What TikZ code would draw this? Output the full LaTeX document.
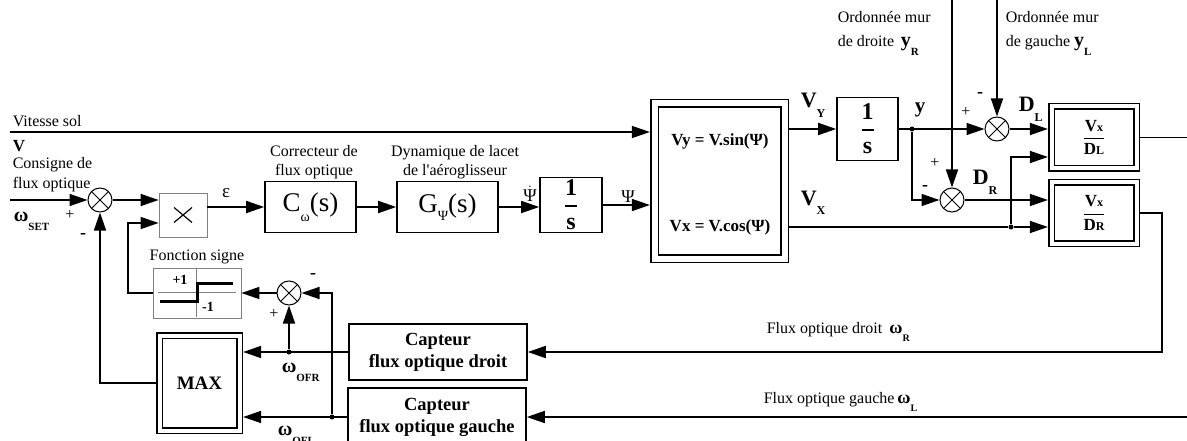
\documentclass[tikz,border=0pt]{standalone}
\usepackage{amsmath}
\usepackage{fontspec}
\setmainfont{Liberation Serif}
\usetikzlibrary{arrows.meta}

\newcommand\fsz[1]{\fontsize{#1}{#1}\selectfont}
\newcommand\sigl[3][11]{\textbf{#2}\raisebox{-.45em}{\fontsize{#1}{#1}\selectfont\textbf{#3}}}

\begin{document}
\begin{tikzpicture}[x=1pt,y=-1pt,line width=1.6pt,
  arr/.style={-{Triangle[length=18pt,width=12pt]}},
  blk/.style={draw,inner sep=0pt,line width=1.6pt,align=center},
  dbox/.style={draw,double,double distance=#1,inner sep=0pt,line width=1.6pt,outer sep=1.6pt+0.5*#1},
  gbox/.style={draw=gray,line width=0.8pt,inner sep=0pt},
  sumn/.style={circle,draw,line width=1pt,minimum size=24pt,inner sep=0pt,
    path picture={\draw[line width=1pt] (path picture bounding box.north west) -- (path picture bounding box.south east)
      (path picture bounding box.north east) -- (path picture bounding box.south west);}},
  dot/.style={circle,fill,inner sep=0pt,minimum size=5pt},
  lbl/.style={inner sep=0pt,font=\fsz{16}},
  sgnlbl/.style={inner sep=0pt,font=\fsz{15}}]
\useasboundingbox (0,0) rectangle (1187,441);
\clip (0,0) rectangle (1187,441);
\coordinate (win) at (10,200);
\coordinate (vin) at (10,132);
\coordinate (fbk) at (128,223);
\coordinate (ytop) at (0,-3);
\coordinate (rc) at (1162,0);
\coordinate (redge) at (1195,0);
\node[sumn] (s1) at (100,200) {};
\node[gbox,minimum width=48pt,minimum height=44pt,
  path picture={\draw[black,line width=1.2pt] ([shift={(-9,-7.5)}]path picture bounding box.center) -- ([shift={(9,7.5)}]path picture bounding box.center)
    ([shift={(-9,7.5)}]path picture bounding box.center) -- ([shift={(9,-7.5)}]path picture bounding box.center);}] (mul) at (183,215) {};
\node[blk,minimum width=91pt,minimum height=51pt] (cw) at (310.5,207) {\fsz{27}C\raisebox{-.35em}{\fsz{14}ω}(s)};
\node[blk,minimum width=101pt,minimum height=51pt] (gp) at (447.5,207) {\fsz{27}G\raisebox{-.3em}{\fsz{14}Ψ}(s)};
\node[blk,minimum width=62pt,minimum height=55pt] (int1) at (571,205) {\fsz{24}$\genfrac{}{}{2pt}{0}{\text{\bfseries 1}}{\text{\bfseries s}}$};
\node[dbox=6pt,minimum width=130pt,minimum height=155pt] (tri) at (719.5,181) {};
\node[lbl,font=\fsz{17}\bfseries] (vyeq) at (720,141) {Vy = V.sin(Ψ)};
\node[lbl,font=\fsz{17}\bfseries] (vxeq) at (720,227) {Vx = V.cos(Ψ)};
\node[blk,minimum width=61pt,minimum height=63pt] (int2) at (867.5,129) {\fsz{24}$\genfrac{}{}{2pt}{0}{\text{\bfseries 1}}{\text{\bfseries s}}$};
\node[dot] (ydot) at (912,129) {};
\node[sumn] (sL) at (997,129) {};
\node[sumn] (sR) at (952,200) {};
\node[dot] (xdot) at (1011,227) {};
\node[dbox=4pt,minimum width=85pt,minimum height=62pt] (dl) at (1094,137.5) {\fsz{17}$\genfrac{}{}{1.2pt}{0}{\text{\bfseries V\fsz{12}x}}{\text{\bfseries D\fsz{12}L}}$};
\node[dbox=4pt,minimum width=85pt,minimum height=61pt] (dr) at (1094,213) {\fsz{17}$\genfrac{}{}{1.2pt}{0}{\text{\bfseries V\fsz{12}x}}{\text{\bfseries D\fsz{12}R}}$};
\node[gbox,minimum width=88pt,minimum height=50pt] (sgn) at (197,293) {};
\node[sumn] (s3) at (289,293) {};
\node[dbox=4pt,minimum width=80pt,minimum height=95pt,font=\fsz{19}\bfseries] (mx) at (199.5,383) {MAX};
\node[blk,minimum width=178pt,minimum height=56pt,font=\fontsize{18.5}{22}\selectfont\bfseries] (capd) at (438,352) {Capteur\\flux optique droit};
\node[blk,minimum width=178pt,minimum height=58pt,font=\fontsize{18.5}{22}\selectfont\bfseries] (capg) at (437,417) {Capteur\\flux optique gauche};
\node[dot] (ofr) at (s3 |- capd) {};
\node[dot] (ofl) at (332,417) {};
\draw[gray,line width=0.6pt] (158,292) -- (236,292) (196,269) -- (196,317);
\draw[line width=3pt] (160,301) -- (197,301) -- (197,283) -- (233,283);
\node[lbl,anchor=base west] (vsol) at (12,127) {Vitesse sol};
\node[lbl,anchor=base west,font=\fsz{17}\bfseries] (vlab) at (12,152) {V};
\node[lbl,anchor=base west] (cons1) at (12,169) {Consigne de};
\node[lbl,anchor=base west] (cons2) at (12,189) {flux optique};
\node[lbl,anchor=base west,font=\fsz{20}] (wset) at (13,222) {\sigl{ω}{SET}};
\node[lbl] (p1) at (70,215) {+};
\node[lbl,font=\fsz{18}\bfseries] (m1) at (83,236) {-};
\node[lbl,font=\fsz{19}] (eps) at (226,193) {ε};
\node[lbl,align=center,font=\fontsize{16}{19}\selectfont] (corr) at (314,162) {Correcteur de\\flux optique};
\node[lbl,align=center,font=\fontsize{16}{19}\selectfont] (dyn) at (455,162) {Dynamique de lacet\\de l\textquotesingle aéroglisseur};
\node[lbl,font=\fsz{18}] (psid) at (530,194) {$\dot{\text{Ψ}}$};
\node[lbl,font=\fsz{18}] (psi) at (628,197) {Ψ};
\node[lbl,anchor=base west,font=\fsz{22}] (vylab) at (800,108) {\sigl[12]{V}{Y}};
\node[lbl,anchor=base west,font=\fsz{22}] (vxlab) at (800,205) {\sigl[12]{V}{X}};
\node[lbl,font=\fsz{21}\bfseries] (ylab) at (920,110) {y};
\node[lbl,anchor=base west] (ordr1) at (837,23) {Ordonnée mur};
\node[lbl,anchor=base west] (ordr2) at (837,47) {de droite\, {\fsz{20}\sigl{y}{R}}};
\node[lbl,anchor=base west] (ordl1) at (1005,23) {Ordonnée mur};
\node[lbl,anchor=base west] (ordl2) at (1005,47) {de gauche {\fsz{20}\sigl{y}{L}}};
\node[lbl] (pL) at (966,112) {+};
\node[lbl,font=\fsz{18}\bfseries] (mL) at (980,95) {-};
\node[lbl] (pR) at (935,163) {+};
\node[lbl,font=\fsz{18}\bfseries] (mR) at (925,188) {-};
\node[lbl,anchor=base west,font=\fsz{22}] (dllab) at (1018,112) {\sigl[12]{D}{L}};
\node[lbl,anchor=base west,font=\fsz{22}] (drlab) at (972,185) {\sigl[12]{D}{R}};
\node[lbl] (fsig) at (197,257) {Fonction signe};
\node[sgnlbl,font=\fsz{14}\bfseries] (pone) at (180,280) {+1};
\node[sgnlbl,font=\fsz{14}\bfseries] (mone) at (208,307) {-1};
\node[lbl,font=\fsz{18}\bfseries] (m3) at (313,276) {-};
\node[lbl] (p3) at (274,314) {+};
\node[lbl,anchor=base west,font=\fsz{20}] (wofr) at (281,372) {\sigl{ω}{OFR}};
\node[lbl,anchor=base west,font=\fsz{20}] (wofl) at (277,435) {\sigl{ω}{OFL}};
\node[lbl,anchor=base west] (fxr) at (766,333) {Flux optique droit\hspace{7pt}{\fsz{18}\sigl[10]{ω}{R}}};
\node[lbl,anchor=base west] (fxl) at (763,403) {Flux optique gauche\hspace{3pt}{\fsz{18}\sigl[10]{ω}{L}}};
\draw[arr] (win) -- (s1.west);
\draw[arr] (s1.east) -- (s1.east -| mul.west);
\draw[arr] (sgn.west) -| (fbk) -- (fbk -| mul.west);
\draw[arr] (mul.east |- cw) -- (cw.west);
\draw[arr] (cw.east) -- (gp.west);
\draw[arr] (gp.east) -- (gp.east -| int1.west);
\draw[arr] (int1.east) -- (int1.east -| tri.west);
\draw[arr] (vin) -- (vin -| tri.west);
\draw[arr] (tri.east |- int2) -- (int2.west);
\draw[arr] (int2.east) -- (sL.west);
\draw[arr] (ydot) |- (sR.west);
\draw[arr] (sR |- ytop) -- (sR.north);
\draw[arr] (sL |- ytop) -- (sL.north);
\draw[arr] (sL.east) -- (sL.east -| dl.west);
\draw[arr] (sR.east) -- (sR.east -| dr.west);
\draw (vxeq -| tri.east) -- (xdot);
\draw[arr] (xdot) -- (xdot -| dr.west);
\draw[arr] (xdot) |- ([yshift=-19.5pt]dl.west);
\draw (dl.east) -- (dl.east -| redge);
\draw[arr] (dr.east) -| (rc |- capd) -- (capd.east);
\draw[arr] (redge |- capg) -- (capg.east);
\draw[arr] (capd.west) -- (capd.west -| mx.east);
\draw[arr] (capg.west) -- (capg.west -| mx.east);
\draw[arr] (ofr) -- (s3.south);
\draw[arr] (ofl) |- (s3.east);
\draw[arr] (s3.west) -- (s3.west -| sgn.east);
\draw[arr] (mx.west) -| (s1.south);
\end{tikzpicture}
\end{document}
